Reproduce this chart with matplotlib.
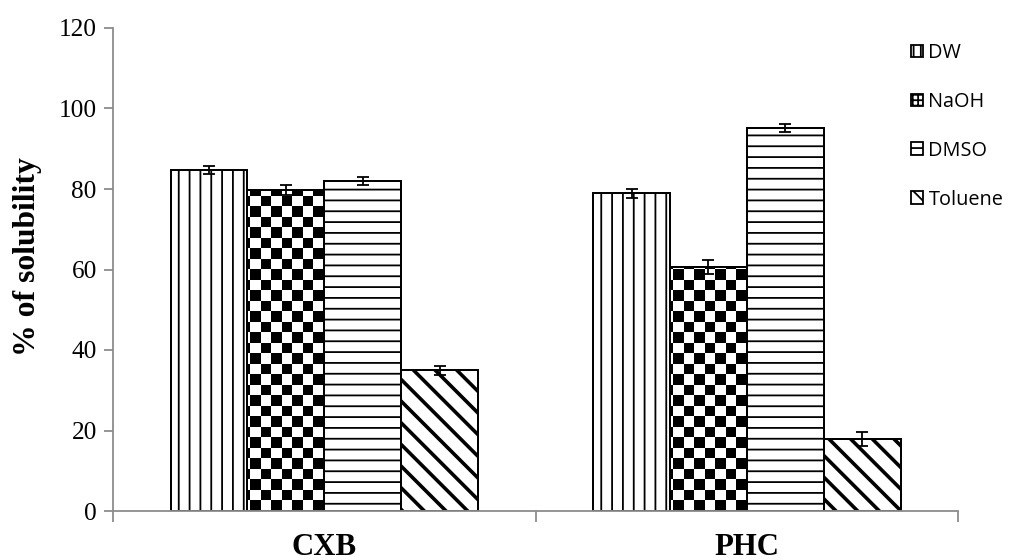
import numpy as np
import matplotlib
matplotlib.use("Agg")
import matplotlib.pyplot as plt
from matplotlib.patches import Patch

groups = ["CXB", "PHC"]
solvents = ["DW", "NaOH", "DMSO", "Toluene"]
solubility = {
    "DW": [84.8, 78.9],
    "NaOH": [79.7, 60.6],
    "DMSO": [82.1, 95.2],
    "Toluene": [35.0, 17.9],
}
errors = {
    "DW": [1.0, 1.1],
    "NaOH": [1.2, 1.7],
    "DMSO": [1.0, 1.0],
    "Toluene": [1.1, 1.7],
}
hatches = {"DW": "||", "NaOH": None, "DMSO": "--", "Toluene": "\\\\"}

DPI = 130
plt.rcParams["hatch.color"] = "black"
plt.rcParams["hatch.linewidth"] = 1.0

fig = plt.figure(figsize=(1022 / DPI, 560 / DPI), dpi=DPI)
ax = fig.add_axes([0.1106, 0.0875, 0.827, 0.8625])

x = np.arange(len(groups))
w = 0.182
offsets = (np.arange(len(solvents)) - 1.5) * w

ax.set_xlim(-0.5, 1.5)
ax.set_ylim(0, 120)

bars = {}
for i, s in enumerate(solvents):
    face = "none" if s == "NaOH" else "white"
    b = ax.bar(x + offsets[i], solubility[s], w, facecolor=face, edgecolor="black",
               linewidth=1.1, hatch=hatches[s], zorder=2)
    if s == "Toluene":
        for p in b:
            if hasattr(p, "set_hatch_linewidth"):
                p.set_hatch_linewidth(2.0)
    bars[s] = b
    ax.errorbar(x + offsets[i], solubility[s], yerr=errors[s], fmt="none",
                ecolor="black", elinewidth=1.0, capsize=3.5, capthick=1.0, zorder=4)

# checkerboard fill for the NaOH bars, clipped to each bar
fig.canvas.draw()
bbox = ax.get_window_extent()
sq = 10.6
nx = int(round(bbox.width / sq))
ny = int(round(bbox.height / sq))
checker = (np.add.outer(np.arange(ny), np.arange(nx)) % 2).astype(float)
for p in bars["NaOH"]:
    im = ax.imshow(checker, cmap="gray", vmin=0, vmax=1, interpolation="nearest",
                   extent=(-0.5, 1.5, 0, 120), aspect="auto", zorder=1.5)
    im.set_clip_path(p)
ax.set_xlim(-0.5, 1.5)
ax.set_ylim(0, 120)

gray = "#8c8c8c"
for sp in ["top", "right"]:
    ax.spines[sp].set_visible(False)
for sp in ["left", "bottom"]:
    ax.spines[sp].set_color(gray)
    ax.spines[sp].set_linewidth(1.0)

ax.set_yticks(np.arange(0, 121, 20))
ax.tick_params(axis="y", direction="out", length=5, width=1.0, color=gray, pad=4,
               labelsize=14, labelcolor="black")
for t in ax.get_yticklabels():
    t.set_fontfamily("Liberation Serif")

ax.set_xticks(x)
ax.set_xticklabels(groups, fontfamily="Liberation Serif", fontweight="bold", fontsize=17)
ax.tick_params(axis="x", which="major", length=0, pad=12)
ax.set_xticks([-0.5, 0.5, 1.5], minor=True)
ax.tick_params(axis="x", which="minor", direction="out", length=6, width=1.0, color=gray)

ax.set_ylabel("% of solubility", fontfamily="Liberation Serif", fontweight="bold",
              fontsize=17.5)
ax.yaxis.set_label_coords(-0.084, 0.526)

handles = [Patch(facecolor="white", edgecolor="black", hatch="|||", label="DW"),
           Patch(facecolor="white", edgecolor="black", hatch="++++", label="NaOH"),
           Patch(facecolor="white", edgecolor="black", hatch="---", label="DMSO"),
           Patch(facecolor="white", edgecolor="black", hatch="\\\\\\", label="Toluene")]
ax.legend(handles=handles, loc="upper left", bbox_to_anchor=(0.891, 0.923),
          bbox_transform=fig.transFigure, frameon=False,
          prop={"family": "Open Sans", "size": 11},
          handlelength=0.6, handleheight=0.6, handletextpad=0.3,
          labelspacing=1.45, borderpad=0, borderaxespad=0)

fig.savefig("out.png", dpi=DPI)
